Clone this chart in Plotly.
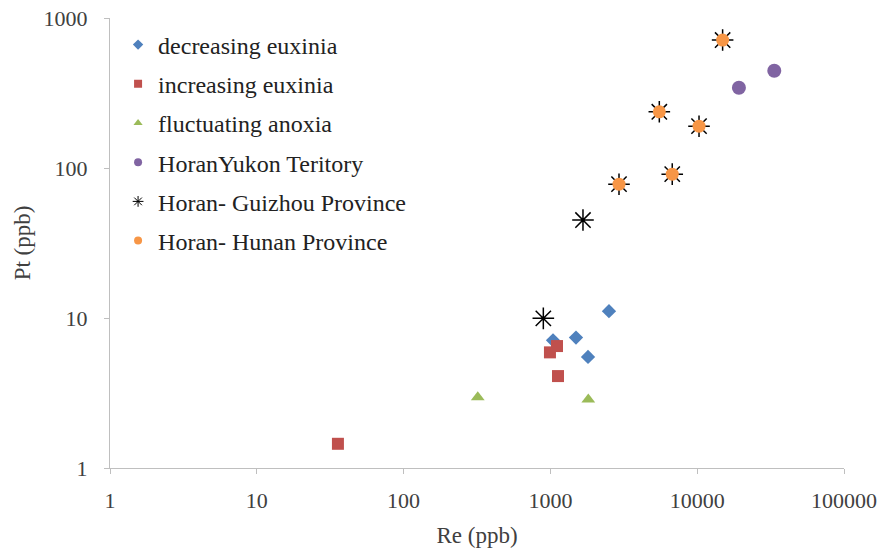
import plotly.graph_objects as go

dec_re = [2506, 1494, 1804, 1042]
dec_pt = [11.1, 7.4, 5.5, 7.1]

inc_re = [993, 1109, 1127, 35.7]
inc_pt = [5.9, 6.5, 4.1, 1.45]

flu_re = [320, 1812]
flu_pt = [2.96, 2.86]

yuk_re = [33500, 19240]
yuk_pt = [445, 343]

gui_re = [895, 1667, 14900, 5520, 10290, 6760, 2933]
gui_pt = [9.95, 45, 713, 237, 190, 91, 78]

hun_re = [14900, 5520, 10290, 6760, 2933]
hun_pt = [713, 237, 190, 91, 78]

x_ticks = [1, 10, 100, 1000, 10000, 100000]
y_ticks = [1, 10, 100, 1000]

font = "Liberation Serif, Times New Roman, serif"

fig = go.Figure()
series = [
    ("decreasing euxinia", dec_re, dec_pt, dict(symbol="diamond", size=11, color="#4F81BD"), 8),
    ("increasing euxinia", inc_re, inc_pt, dict(symbol="square", size=12, color="#C0504D"), 8),
    ("fluctuating anoxia", flu_re, flu_pt, dict(symbol="triangle-up", size=12, color="#9BBB59"), 8),
    ("HoranYukon Teritory", yuk_re, yuk_pt, dict(symbol="circle", size=14, color="#8064A2"), 8),
    ("Horan- Guizhou Province", gui_re, gui_pt, dict(symbol="asterisk-open", size=18, color="black",
                                                      line=dict(color="#222222", width=1.5)), 9),
    ("Horan- Hunan Province", hun_re, hun_pt, dict(symbol="circle", size=13, color="#F79646"), 8),
]
for i, (name, x, y, mk, lsize) in enumerate(series):
    fig.add_trace(go.Scatter(x=x, y=y, mode="markers", name=name, marker=mk,
                             showlegend=False))
for i, (name, x, y, mk, lsize) in enumerate(series):
    lm = dict(mk)
    lm["size"] = lsize
    if "line" in lm:
        lm["line"] = dict(color="#999999", width=1)
    fig.add_trace(go.Scatter(x=[None], y=[None], mode="markers", name=name, marker=lm,
                             legendgroup=f"g{i}", showlegend=True))

fig.update_layout(
    width=884, height=550,
    margin=dict(l=110, r=40, t=18, b=82),
    plot_bgcolor="white", paper_bgcolor="white",
    font=dict(family=font, size=22, color="#404040"),
    showlegend=True,
    legend=dict(x=0.011, y=0.99, xanchor="left", yanchor="top",
                font=dict(family=font, size=24, color="#222222"),
                bgcolor="rgba(0,0,0,0)", tracegroupgap=5, itemwidth=30,
                traceorder="grouped"),
    xaxis=dict(type="log", range=[0, 5], showgrid=False, showline=True,
               linecolor="#BFBFBF", linewidth=1, ticks="outside", ticklen=5,
               tickcolor="#BFBFBF", tickvals=x_ticks,
               ticktext=[str(v) for v in x_ticks], ticklabelstandoff=8,
               tickfont=dict(family=font, size=22, color="#404040"),
               title=dict(text="Re (ppb)", font=dict(family=font, size=23, color="#404040"), standoff=14),
               zeroline=False, mirror=False, automargin=False),
    yaxis=dict(type="log", range=[0, 3], showgrid=False, showline=True,
               linecolor="#BFBFBF", linewidth=1, ticks="outside", ticklen=5,
               tickcolor="#BFBFBF", tickvals=y_ticks,
               ticktext=[str(v) for v in y_ticks], ticklabelstandoff=12,
               tickfont=dict(family=font, size=22, color="#404040"),
               title=dict(text="Pt (ppb)", font=dict(family=font, size=23, color="#404040"), standoff=6),
               zeroline=False, automargin=False),
)

fig.write_html("out.html")
